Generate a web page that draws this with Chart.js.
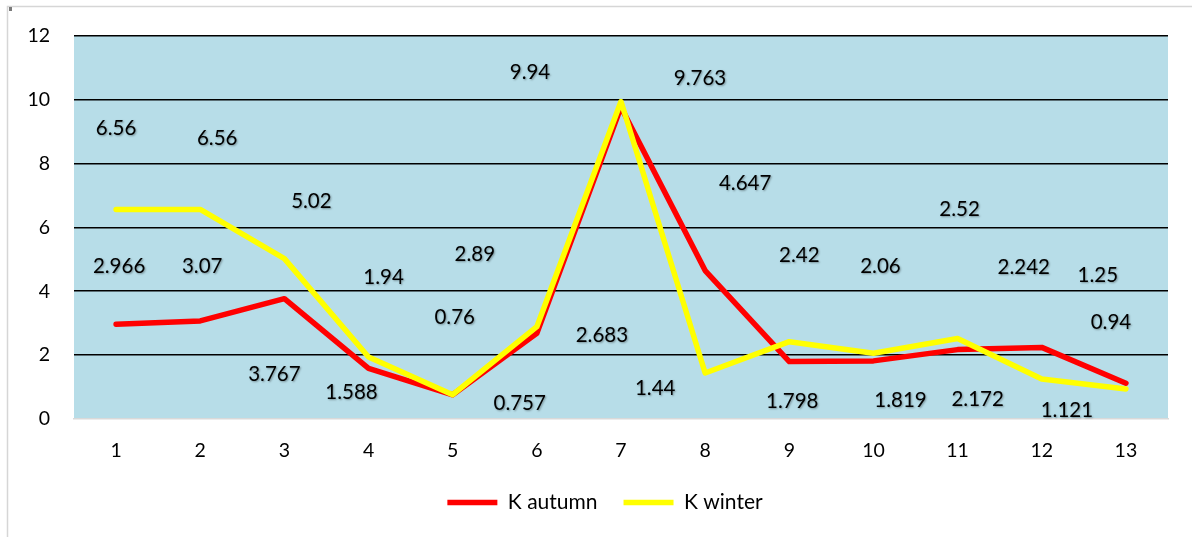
<!DOCTYPE html>
<html>
<head>
<meta charset="utf-8">
<script src="https://cdn.jsdelivr.net/npm/chart.js@4/dist/chart.umd.min.js"></script>
<style>
  html, body { margin: 0; padding: 0; background: #ffffff; }
  #wrap { position: relative; width: 1192px; height: 537px; }
</style>
</head>
<body>
<div id="wrap"><canvas id="c" width="1192" height="537"></canvas></div>
<script>
// Categories and series
const categories = ['1','2','3','4','5','6','7','8','9','10','11','12','13'];
const kAutumn = [2.966, 3.07, 3.767, 1.588, 0.757, 2.683, 9.763, 4.647, 1.798, 1.819, 2.172, 2.242, 1.121];
const kWinter = [6.56, 6.56, 5.02, 1.94, 0.76, 2.89, 9.94, 1.44, 2.42, 2.06, 2.52, 1.25, 0.94];
const yTicks = [0, 2, 4, 6, 8, 10, 12];

// Hand-placed value labels: pixel shift from each point (dx, dy)
const autumnLabelShift = [[3,-58],[2,-55],[-10,76],[-17,24],[67,9],[65,2],[79,-29],[40,-87],[3,40],[27,39],[20,50],[-18,-80],[-59,27]];
const winterLabelShift = [[0,-81],[17,-71],[27,-57],[15,-80],[2,-77],[-62,-72],[-91,-29],[-50,15],[10,-86],[7,-87],[2,-129],[56,-104],[-15,-67]];

const FONT = 'Lato, "Open Sans", sans-serif';

const plotBackground = {
  id: 'plotBackground',
  beforeDraw(chart) {
    const {ctx, chartArea: a} = chart;
    ctx.save();
    ctx.fillStyle = '#B7DDE8';
    ctx.fillRect(a.left, a.top, a.right - a.left, a.bottom - a.top);
    ctx.restore();
  }
};

// Nudge the legend row to the right so it sits under the plot's centre
const legendShift = {
  id: 'legendShift',
  afterLayout(chart) {
    if (chart.legend) { chart.legend.left += 42; }
  }
};

const valueLabels = {
  id: 'valueLabels',
  afterDatasetsDraw(chart) {
    const {ctx} = chart;
    const shifts = [autumnLabelShift, winterLabelShift];
    ctx.save();
    ctx.font = '20.5px ' + FONT;
    ctx.fillStyle = '#000000';
    ctx.textAlign = 'center';
    ctx.textBaseline = 'middle';
    ctx.shadowColor = 'rgba(0,0,0,0.35)';
    ctx.shadowBlur = 2;
    ctx.shadowOffsetX = 1;
    ctx.shadowOffsetY = 1;
    chart.data.datasets.forEach((ds, di) => {
      const meta = chart.getDatasetMeta(di);
      meta.data.forEach((pt, i) => {
        const s = shifts[di][i];
        ctx.fillText(String(ds.data[i]), pt.x + s[0], pt.y + s[1]);
      });
    });
    ctx.restore();
  }
};

const frame = {
  id: 'frame',
  afterDraw(chart) {
    const {ctx, width, height} = chart;
    ctx.save();
    ctx.strokeStyle = '#d6d6d6';
    ctx.lineWidth = 1.5;
    ctx.beginPath();
    ctx.moveTo(7.5, height);
    ctx.lineTo(7.5, 6.5);
    ctx.lineTo(width, 6.5);
    ctx.stroke();
    ctx.fillStyle = '#7a7a7a';
    ctx.fillRect(9, 7, 3, 4);
    ctx.restore();
  }
};

new Chart(document.getElementById('c'), {
  type: 'line',
  data: {
    labels: categories,
    datasets: [
      {
        label: 'K autumn',
        data: kAutumn,
        borderColor: '#FF0000',
        backgroundColor: '#FF0000',
        borderWidth: 5.5,
        borderCapStyle: 'round',
        borderJoinStyle: 'round',
        pointRadius: 0,
        pointStyle: 'line',
        tension: 0,
        order: 2
      },
      {
        label: 'K winter',
        data: kWinter,
        borderColor: '#FFFF00',
        backgroundColor: '#FFFF00',
        borderWidth: 5.5,
        borderCapStyle: 'round',
        borderJoinStyle: 'round',
        pointRadius: 0,
        pointStyle: 'line',
        tension: 0,
        order: 1
      }
    ]
  },
  options: {
    responsive: false,
    animation: false,
    layout: { padding: { left: 0, right: 24, top: 35, bottom: 14 } },
    scales: {
      x: {
        offset: true,
        grid: { display: false, drawTicks: false },
        border: { display: true, color: '#d9d9d9', width: 1.5 },
        ticks: { color: '#000', font: { family: FONT, size: 19.5 }, padding: 20, maxRotation: 0 },
        afterFit(scale) { scale.height = 47; }
      },
      y: {
        min: 0,
        max: 12,
        afterBuildTicks(scale) { scale.ticks = yTicks.map(v => ({ value: v })); },
        grid: {
          drawTicks: false,
          color: ctx => (ctx.tick && ctx.tick.value === 0) ? 'rgba(0,0,0,0)' : '#000000',
          lineWidth: 1.5
        },
        border: { display: false },
        ticks: { color: '#000', font: { family: FONT, size: 19.5 }, padding: 24 },
        afterFit(scale) { scale.width = 74; }
      }
    },
    plugins: {
      legend: {
        position: 'bottom',
        labels: {
          usePointStyle: true,
          pointStyleWidth: 50,
          color: '#000',
          font: { family: FONT, size: 21 },
          padding: 26,
          sort: (a, b) => a.datasetIndex - b.datasetIndex
        }
      },
      tooltip: { enabled: false }
    }
  },
  plugins: [plotBackground, legendShift, valueLabels, frame]
});
</script>
</body>
</html>
